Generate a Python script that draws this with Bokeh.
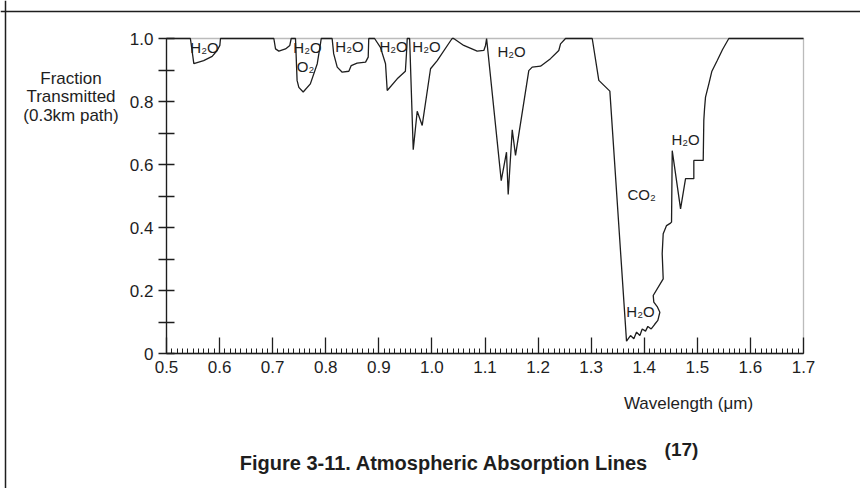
from bokeh.plotting import figure
from bokeh.models import Range1d, FixedTicker, Label, BoxAnnotation, Span
from bokeh.embed import file_html
from bokeh.resources import INLINE

FONT = "Liberation Sans"
INK = "#1e1e1e"

# ---- data: transmission curve ----
wavelength = [
    0.500, 0.545, 0.5515, 0.570, 0.586, 0.5954, 0.6005, 0.6017,
    0.7022, 0.7054, 0.7116, 0.7242, 0.7323, 0.7349,
    0.743, 0.746, 0.7493, 0.7575, 0.771, 0.784, 0.790, 0.7915,
    0.812, 0.815, 0.8216, 0.831, 0.8435, 0.848, 0.859, 0.875, 0.880, 0.881,
    0.892, 0.903, 0.9126, 0.9158, 0.9346, 0.950, 0.952, 0.9535,
    0.958, 0.9648, 0.9723, 0.9817, 0.9974, 1.010, 1.038,
    1.041, 1.060, 1.0853, 1.0978, 1.101, 1.103,
    1.1306, 1.1405, 1.1437, 1.1513, 1.1575, 1.1825, 1.1889, 1.2046, 1.2234, 1.239, 1.2423, 1.2517,
    1.302, 1.3144, 1.3352, 1.3666, 1.3741, 1.3804, 1.3855, 1.3917, 1.3962, 1.4024, 1.4068,
    1.4131, 1.4194, 1.4256, 1.4294, 1.4244, 1.418, 1.4169, 1.4357, 1.4338, 1.4357, 1.442,
    1.4495, 1.4514, 1.4527, 1.4684, 1.4778, 1.4934, 1.4934, 1.5111, 1.5122, 1.5136, 1.5154,
    1.5217, 1.5272, 1.5375, 1.5475, 1.5593, 1.700,
]
transmission = [
    1.0, 1.0, 0.920, 0.930, 0.943, 0.962, 0.978, 1.0,
    1.0, 0.967, 0.960, 0.967, 0.978, 1.0,
    1.0, 0.867, 0.845, 0.830, 0.856, 0.920, 0.983, 1.0,
    1.0, 0.951, 0.909, 0.893, 0.896, 0.914, 0.922, 0.925, 0.941, 1.0,
    1.0, 0.972, 0.920, 0.835, 0.872, 0.896, 0.951, 1.0,
    1.0, 0.647, 0.769, 0.724, 0.904, 0.930, 1.0,
    1.0, 0.978, 0.960, 0.962, 0.978, 1.0,
    0.549, 0.639, 0.505, 0.710, 0.629, 0.898, 0.909, 0.912, 0.936, 0.962, 0.983, 1.0,
    1.0, 0.867, 0.833, 0.039, 0.057, 0.047, 0.068, 0.057, 0.078, 0.071, 0.086,
    0.078, 0.092, 0.105, 0.131, 0.149, 0.163, 0.184, 0.237, 0.317, 0.380, 0.406,
    0.414, 0.417, 0.644, 0.459, 0.555, 0.555, 0.613, 0.613, 0.740, 0.778, 0.814,
    0.856, 0.895, 0.930, 0.965, 1.0, 1.0,
]

x_ticks = [0.5, 0.6, 0.7, 0.8, 0.9, 1.0, 1.1, 1.2, 1.3, 1.4, 1.5, 1.6, 1.7]
x_tick_labels = ["0.5", "0.6", "0.7", "0.8", "0.9", "1.0", "1.1", "1.2", "1.3", "1.4", "1.5", "1.6", "1.7"]
y_ticks = [0.0, 0.1, 0.2, 0.3, 0.4, 0.5, 0.6, 0.7, 0.8, 0.9, 1.0]
y_tick_labels = ["0", "", "0.2", "", "0.4", "", "0.6", "", "0.8", "", "1.0"]

band_text = ["H₂O", "H₂O", "O₂", "H₂O", "H₂O", "H₂O", "H₂O", "CO₂", "H₂O", "H₂O"]
band_x = [0.5716, 0.7656, 0.7619, 0.8448, 0.9277, 0.9898, 1.150, 1.3949, 1.4778, 1.393]
band_y = [0.971, 0.971, 0.911, 0.975, 0.975, 0.975, 0.959, 0.505, 0.679, 0.133]

y_title_lines = ["Fraction", "Transmitted", "(0.3km path)"]
x_title = "Wavelength (μm)"
caption = "Figure 3-11.  Atmospheric Absorption Lines"
caption_ref = "(17)"

# ---- layout (page pixels) ----
W, H = 860, 488
CANVAS_X, CANVAS_Y = 0, 0          # where the canvas lands on the page
BOX_L, BOX_R, BOX_T, BOX_B = 166, 803, 38, 353   # plot box in page pixels
sx = (BOX_R - BOX_L) / (1.7 - 0.5)
sy = (BOX_B - BOX_T) / 1.0
x_start = 0.5 - (BOX_L - CANVAS_X) / sx
x_end = x_start + W / sx
y_end = 1.0 + (BOX_T - CANVAS_Y) / sy
y_start = y_end - H / sy


def dx(px):
    return 0.5 + (px - BOX_L) / sx


def dy(py):
    return (BOX_B - py) / sy


p = figure(width=W, height=H, x_range=Range1d(x_start, x_end), y_range=Range1d(y_start, y_end),
           output_backend="svg", toolbar_location=None,
           min_border_left=0, min_border_right=0, min_border_top=0, min_border_bottom=0)
p.title.visible = False
p.grid.visible = False
p.background_fill_color = "white"
p.border_fill_color = "white"
p.outline_line_color = None

# plot box
p.add_layout(BoxAnnotation(left=0.5, right=1.7, bottom=0.0, top=1.0, fill_alpha=0,
                           line_color=INK, line_width=1.3))
# outer figure border (left and top edges visible)
p.add_layout(Span(location=dx(5), dimension="height", line_color=INK, line_width=1.5))
p.add_layout(Span(location=dy(11), dimension="width", line_color=INK, line_width=1.5))

p.line(wavelength, transmission, line_color=INK, line_width=1.3)

xa = p.xaxis[0]
minor = [round(0.5 + 0.01 * i, 2) for i in range(121)]
xa.ticker = FixedTicker(ticks=x_ticks, minor_ticks=minor)
xa.major_label_overrides = dict(zip(x_ticks, x_tick_labels))
xa.fixed_location = 0.0
xa.bounds = (0.5, 1.7)
xa.major_tick_in = 16
xa.major_tick_out = 0
xa.minor_tick_in = 5
xa.minor_tick_out = 0
xa.major_label_standoff = 7

ya = p.yaxis[0]
ya.ticker = FixedTicker(ticks=y_ticks, minor_ticks=[])
ya.major_label_overrides = dict(zip(y_ticks, y_tick_labels))
ya.fixed_location = 0.5
ya.bounds = (0.0, 1.0)
ya.major_tick_in = 8
ya.major_tick_out = 8
ya.minor_tick_in = 0
ya.minor_tick_out = 0
ya.major_label_standoff = 5
ya.major_label_text_baseline = "alphabetic"

for ax in (xa, ya):
    ax.axis_line_color = INK
    ax.axis_line_width = 1.3
    ax.major_tick_line_color = INK
    ax.major_tick_line_width = 1.3
    ax.minor_tick_line_color = INK
    ax.minor_tick_line_width = 1
    ax.major_label_text_font = FONT
    ax.major_label_text_font_size = "17px"
    ax.major_label_text_color = INK

for t, x, y in zip(band_text, band_x, band_y):
    p.add_layout(Label(x=x, y=y, text=t, text_align="center", text_baseline="middle",
                       text_font=FONT, text_font_size="15px", text_color=INK))

for t, py in zip(y_title_lines, [78, 96, 115]):
    p.add_layout(Label(x=dx(70.5), y=dy(py), text=t, text_align="center", text_baseline="middle",
                       text_font=FONT, text_font_size="17px", text_color=INK))

p.add_layout(Label(x=dx(688), y=dy(402.5), text=x_title, text_align="center", text_baseline="middle",
                   text_font=FONT, text_font_size="17px", text_color=INK))
p.add_layout(Label(x=dx(446.5), y=dy(462), text=caption, text_align="center", text_baseline="middle",
                   text_font=FONT, text_font_size="20px", text_font_style="bold", text_color=INK))
p.add_layout(Label(x=dx(681), y=dy(448.5), text=caption_ref, text_align="center", text_baseline="middle",
                   text_font=FONT, text_font_size="19px", text_font_style="bold", text_color=INK))

open("out.html", "w").write(file_html(p, INLINE))
